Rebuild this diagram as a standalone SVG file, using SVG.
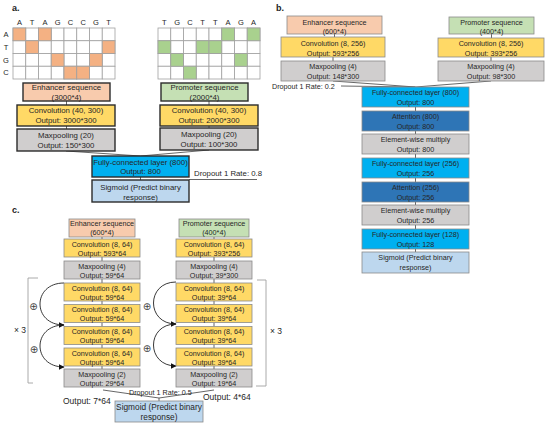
<svg xmlns="http://www.w3.org/2000/svg" width="550" height="427" viewBox="0 0 550 427">
<defs>
<style>
.t{font-family:"Liberation Sans",Arial,sans-serif;font-size:7.2px;fill:#262626;text-anchor:middle}
.tl{font-family:"Liberation Sans",Arial,sans-serif;font-size:7.2px;fill:#262626}
.ta{font-size:7.8px}
.big{font-size:8.3px}
.lab{font-family:"Liberation Sans",Arial,sans-serif;font-size:9px;font-weight:bold;fill:#222}
.ba{stroke:#2b2b2b;stroke-width:1.4}
.bb{stroke:#8a8a8a;stroke-width:0.8}
.or{fill:#F8CBAD}.gr{fill:#C5E0B4}.ye{fill:#FFD966}.gy{fill:#D0CECE}.fc{fill:#00B0F0}.at{fill:#2E75B6}.sg{fill:#BDD7EE}
.oc{fill:#F4B183}.gc{fill:#A9D18E}
.cell{fill:#fff;stroke:#a0a0a0;stroke-width:0.8}
.ln{stroke:#404040;stroke-width:0.8;fill:none}
.arc{stroke:#222;stroke-width:0.9;fill:none}
.br{stroke:#a0a0a0;stroke-width:0.9;fill:none}
.sym{font-family:"DejaVu Sans",sans-serif;font-size:10px;fill:#444;text-anchor:middle}
</style>
<marker id="ah" viewBox="0 0 10 10" refX="9" refY="5" markerWidth="6" markerHeight="6" orient="auto" markerUnits="userSpaceOnUse">
<path d="M0,0 L10,5 L0,10 z" fill="#111"/>
</marker>
</defs>
<rect width="550" height="427" fill="#fff"/>

<!-- Panel labels -->
<text class="lab" x="12" y="11">a.</text>
<text class="lab" x="276" y="11">b.</text>
<text class="lab" x="12" y="213">c.</text>

<!-- Panel a grids -->
<g id="grid-enhancer">
<g class="tl" style="text-anchor:middle;font-size:7.5px">
<text x="19.4" y="25">A</text><text x="32.1" y="25">T</text><text x="44.9" y="25">A</text><text x="57.6" y="25">G</text><text x="70.4" y="25">C</text><text x="83.1" y="25">C</text><text x="95.9" y="25">G</text><text x="108.6" y="25">T</text>
<text x="6" y="37">A</text><text x="6" y="49.5">T</text><text x="6" y="62.5">G</text><text x="6" y="75">C</text>
</g>
<g>
<rect class="cell" x="13" y="28" width="12.75" height="12.75"/><rect class="cell" x="25.75" y="28" width="12.75" height="12.75"/><rect class="cell" x="38.5" y="28" width="12.75" height="12.75"/><rect class="cell" x="51.25" y="28" width="12.75" height="12.75"/><rect class="cell" x="64" y="28" width="12.75" height="12.75"/><rect class="cell" x="76.75" y="28" width="12.75" height="12.75"/><rect class="cell" x="89.5" y="28" width="12.75" height="12.75"/><rect class="cell" x="102.25" y="28" width="12.75" height="12.75"/>
<rect class="cell" x="13" y="40.75" width="12.75" height="12.75"/><rect class="cell" x="25.75" y="40.75" width="12.75" height="12.75"/><rect class="cell" x="38.5" y="40.75" width="12.75" height="12.75"/><rect class="cell" x="51.25" y="40.75" width="12.75" height="12.75"/><rect class="cell" x="64" y="40.75" width="12.75" height="12.75"/><rect class="cell" x="76.75" y="40.75" width="12.75" height="12.75"/><rect class="cell" x="89.5" y="40.75" width="12.75" height="12.75"/><rect class="cell" x="102.25" y="40.75" width="12.75" height="12.75"/>
<rect class="cell" x="13" y="53.5" width="12.75" height="12.75"/><rect class="cell" x="25.75" y="53.5" width="12.75" height="12.75"/><rect class="cell" x="38.5" y="53.5" width="12.75" height="12.75"/><rect class="cell" x="51.25" y="53.5" width="12.75" height="12.75"/><rect class="cell" x="64" y="53.5" width="12.75" height="12.75"/><rect class="cell" x="76.75" y="53.5" width="12.75" height="12.75"/><rect class="cell" x="89.5" y="53.5" width="12.75" height="12.75"/><rect class="cell" x="102.25" y="53.5" width="12.75" height="12.75"/>
<rect class="cell" x="13" y="66.25" width="12.75" height="12.75"/><rect class="cell" x="25.75" y="66.25" width="12.75" height="12.75"/><rect class="cell" x="38.5" y="66.25" width="12.75" height="12.75"/><rect class="cell" x="51.25" y="66.25" width="12.75" height="12.75"/><rect class="cell" x="64" y="66.25" width="12.75" height="12.75"/><rect class="cell" x="76.75" y="66.25" width="12.75" height="12.75"/><rect class="cell" x="89.5" y="66.25" width="12.75" height="12.75"/><rect class="cell" x="102.25" y="66.25" width="12.75" height="12.75"/>
</g>
<g class="oc" stroke="#a0a0a0" stroke-width="0.8">
<rect x="13" y="28" width="12.75" height="12.75"/><rect x="38.5" y="28" width="12.75" height="12.75"/>
<rect x="25.75" y="40.75" width="12.75" height="12.75"/><rect x="102.25" y="40.75" width="12.75" height="12.75"/>
<rect x="51.25" y="53.5" width="12.75" height="12.75"/><rect x="89.5" y="53.5" width="12.75" height="12.75"/>
<rect x="64" y="66.25" width="12.75" height="12.75"/><rect x="76.75" y="66.25" width="12.75" height="12.75"/>
</g>
</g>

<g id="grid-promoter">
<g class="tl" style="text-anchor:middle;font-size:7.5px">
<text x="164.4" y="25">T</text><text x="177.1" y="25">G</text><text x="189.9" y="25">C</text><text x="202.6" y="25">T</text><text x="215.4" y="25">T</text><text x="228.1" y="25">A</text><text x="240.9" y="25">G</text><text x="253.6" y="25">A</text>
</g>
<g>
<rect class="cell" x="158" y="28" width="12.75" height="12.75"/><rect class="cell" x="170.75" y="28" width="12.75" height="12.75"/><rect class="cell" x="183.5" y="28" width="12.75" height="12.75"/><rect class="cell" x="196.25" y="28" width="12.75" height="12.75"/><rect class="cell" x="209" y="28" width="12.75" height="12.75"/><rect class="cell" x="221.75" y="28" width="12.75" height="12.75"/><rect class="cell" x="234.5" y="28" width="12.75" height="12.75"/><rect class="cell" x="247.25" y="28" width="12.75" height="12.75"/>
<rect class="cell" x="158" y="40.75" width="12.75" height="12.75"/><rect class="cell" x="170.75" y="40.75" width="12.75" height="12.75"/><rect class="cell" x="183.5" y="40.75" width="12.75" height="12.75"/><rect class="cell" x="196.25" y="40.75" width="12.75" height="12.75"/><rect class="cell" x="209" y="40.75" width="12.75" height="12.75"/><rect class="cell" x="221.75" y="40.75" width="12.75" height="12.75"/><rect class="cell" x="234.5" y="40.75" width="12.75" height="12.75"/><rect class="cell" x="247.25" y="40.75" width="12.75" height="12.75"/>
<rect class="cell" x="158" y="53.5" width="12.75" height="12.75"/><rect class="cell" x="170.75" y="53.5" width="12.75" height="12.75"/><rect class="cell" x="183.5" y="53.5" width="12.75" height="12.75"/><rect class="cell" x="196.25" y="53.5" width="12.75" height="12.75"/><rect class="cell" x="209" y="53.5" width="12.75" height="12.75"/><rect class="cell" x="221.75" y="53.5" width="12.75" height="12.75"/><rect class="cell" x="234.5" y="53.5" width="12.75" height="12.75"/><rect class="cell" x="247.25" y="53.5" width="12.75" height="12.75"/>
<rect class="cell" x="158" y="66.25" width="12.75" height="12.75"/><rect class="cell" x="170.75" y="66.25" width="12.75" height="12.75"/><rect class="cell" x="183.5" y="66.25" width="12.75" height="12.75"/><rect class="cell" x="196.25" y="66.25" width="12.75" height="12.75"/><rect class="cell" x="209" y="66.25" width="12.75" height="12.75"/><rect class="cell" x="221.75" y="66.25" width="12.75" height="12.75"/><rect class="cell" x="234.5" y="66.25" width="12.75" height="12.75"/><rect class="cell" x="247.25" y="66.25" width="12.75" height="12.75"/>
</g>
<g class="gc" stroke="#a0a0a0" stroke-width="0.8">
<rect x="221.75" y="28" width="12.75" height="12.75"/><rect x="247.25" y="28" width="12.75" height="12.75"/>
<rect x="158" y="40.75" width="12.75" height="12.75"/><rect x="196.25" y="40.75" width="12.75" height="12.75"/><rect x="209" y="40.75" width="12.75" height="12.75"/>
<rect x="170.75" y="53.5" width="12.75" height="12.75"/><rect x="234.5" y="53.5" width="12.75" height="12.75"/>
<rect x="183.5" y="66.25" width="12.75" height="12.75"/>
</g>
</g>

<!-- Connectors -->
<g id="connectors">
<!-- panel a -->
<line class="ln" x1="66.5" y1="101" x2="66.5" y2="105"/>
<line class="ln" x1="66.5" y1="126" x2="66.5" y2="129"/>
<line class="ln" x1="209" y1="101" x2="209" y2="105"/>
<line class="ln" x1="209" y1="126" x2="209" y2="128"/>
<line class="ln" x1="66" y1="151" x2="140.5" y2="156"/>
<line class="ln" x1="209" y1="150" x2="140.5" y2="156"/>
<line class="ln" x1="140.5" y1="177" x2="140.5" y2="180"/>
<line class="ln" x1="189" y1="179.5" x2="257" y2="179.5"/>
<!-- panel b -->
<line class="ln" x1="334.5" y1="34" x2="334.5" y2="37"/>
<line class="ln" x1="333" y1="57" x2="333" y2="61"/>
<line class="ln" x1="491.5" y1="34" x2="491.5" y2="38"/>
<line class="ln" x1="491" y1="57" x2="491" y2="61"/>
<line class="ln" x1="341" y1="86" x2="415.5" y2="87"/>
<line class="ln" x1="333" y1="81" x2="415.5" y2="87"/>
<line class="ln" x1="491" y1="81" x2="415.5" y2="87"/>
<line class="ln" x1="415.5" y1="107" x2="415.5" y2="111"/>
<line class="ln" x1="415.5" y1="131" x2="415.5" y2="134"/>
<line class="ln" x1="415.5" y1="154" x2="415.5" y2="158"/>
<line class="ln" x1="415.5" y1="178" x2="415.5" y2="182"/>
<line class="ln" x1="415.5" y1="202" x2="415.5" y2="205"/>
<line class="ln" x1="415.5" y1="225" x2="415.5" y2="229"/>
<line class="ln" x1="415.5" y1="249" x2="415.5" y2="252"/>
<!-- panel c -->
<line class="ln" x1="102" y1="237" x2="102" y2="239"/>
<line class="ln" x1="102" y1="257" x2="102" y2="261"/>
<line class="ln" x1="102" y1="279" x2="102" y2="283"/>
<line class="ln" x1="102" y1="301" x2="102" y2="304.5"/>
<line class="ln" x1="102" y1="322.5" x2="102" y2="326.5"/>
<line class="ln" x1="102" y1="344.5" x2="102" y2="348"/>
<line class="ln" x1="102" y1="366" x2="102" y2="369"/>
<line class="ln" x1="214" y1="237" x2="214" y2="239"/>
<line class="ln" x1="214" y1="257" x2="214" y2="261"/>
<line class="ln" x1="214" y1="279" x2="214" y2="283"/>
<line class="ln" x1="214" y1="301" x2="214" y2="304.5"/>
<line class="ln" x1="214" y1="322.5" x2="214" y2="326.5"/>
<line class="ln" x1="214" y1="344.5" x2="214" y2="348"/>
<line class="ln" x1="214" y1="366" x2="214" y2="369"/>
<path class="arc" d="M64,283 C32,283 32,325 64,325" marker-end="url(#ah)"/>
<path class="arc" d="M64,325 C32,325 32,367 64,367" marker-end="url(#ah)"/>
<path class="arc" d="M176,282 C146,282 146,324 176,324" marker-end="url(#ah)"/>
<path class="arc" d="M176,324 C146,324 146,366 176,366" marker-end="url(#ah)"/>
<line class="ln" x1="103" y1="390" x2="159" y2="398"/>
<line class="ln" x1="214" y1="390" x2="159" y2="398"/>
<line class="ln" x1="159" y1="398" x2="159" y2="401"/>
<polyline class="br" points="38,278 28,278 28,383 33,383"/>
<polyline class="br" points="257,280 266,280 266,386 256,386"/>
</g>

<!-- Panel a nodes -->
<g id="a-enhancer"><rect class="or ba" x="23" y="83" width="87" height="18"/><text class="t ta" x="66.5" y="89.8">Enhancer sequence</text><text class="t ta" x="66.5" y="99.5">(3000*4)</text></g>
<g id="a-conv-enh"><rect class="ye ba" x="17" y="105" width="98" height="21"/><text class="t ta" x="66" y="112.8">Convolution (40, 300)</text><text class="t ta" x="66" y="122.8">Output: 3000*300</text></g>
<g id="a-pool-enh"><rect class="gy ba" x="17" y="129" width="98" height="22"/><text class="t ta" x="66" y="137.8">Maxpooling (20)</text><text class="t ta" x="66" y="147.8">Output: 150*300</text></g>
<g id="a-promoter"><rect class="gr ba" x="161" y="83" width="87" height="18"/><text class="t ta" x="204.5" y="89.8">Promoter sequence</text><text class="t ta" x="204.5" y="99.5">(2000*4)</text></g>
<g id="a-conv-pro"><rect class="ye ba" x="160" y="105" width="98" height="21"/><text class="t ta" x="209" y="112.8">Convolution (40, 300)</text><text class="t ta" x="209" y="122.8">Output: 2000*300</text></g>
<g id="a-pool-pro"><rect class="gy ba" x="160" y="128" width="98" height="22"/><text class="t ta" x="209" y="136.8">Maxpooling (20)</text><text class="t ta" x="209" y="146.8">Output: 100*300</text></g>
<g id="a-fc"><rect class="fc ba" x="92" y="156" width="97" height="21"/><text class="t ta" x="140.5" y="164.8">Fully-connected layer (800)</text><text class="t ta" x="140.5" y="174.3">Output: 800</text></g>
<g id="a-sig"><rect class="sg ba" x="92" y="180" width="97" height="22"/><text class="t ta" x="140.5" y="189.8">Sigmoid (Predict binary</text><text class="t ta" x="140.5" y="199.8">response)</text></g>
<text class="tl ta" x="194" y="176">Dropout 1 Rate: 0.8</text>

<!-- Panel b nodes -->
<g id="b-enhancer"><rect class="or bb" x="287" y="16" width="95" height="18"/><text class="t" x="334.5" y="24.5">Enhancer sequence</text><text class="t" x="334.5" y="33.5">(600*4)</text></g>
<g id="b-conv-enh"><rect class="ye bb" x="281" y="37" width="104" height="20"/><text class="t" x="333" y="45.5">Convolution (8, 256)</text><text class="t" x="333" y="55.5">Output: 593*256</text></g>
<g id="b-pool-enh"><rect class="gy bb" x="281" y="61" width="104" height="20"/><text class="t" x="333" y="68.5">Maxpooling (4)</text><text class="t" x="333" y="78.5">Output: 148*300</text></g>
<g id="b-promoter"><rect class="gr bb" x="449" y="17" width="85" height="17"/><text class="t" x="491.5" y="24.5">Promoter sequence</text><text class="t" x="491.5" y="33.5">(400*4)</text></g>
<g id="b-conv-pro"><rect class="ye bb" x="438" y="38" width="106" height="19"/><text class="t" x="491" y="45.5">Convolution (8, 256)</text><text class="t" x="491" y="55.5">Output: 393*256</text></g>
<g id="b-pool-pro"><rect class="gy bb" x="438" y="61" width="106" height="20"/><text class="t" x="491" y="68.5">Maxpooling (4)</text><text class="t" x="491" y="78.5">Output: 98*300</text></g>
<text class="tl" x="272" y="88.5">Dropout 1 Rate: 0.2</text>
<g id="b-fc800"><rect class="fc bb" x="362" y="87" width="107" height="20"/><text class="t" x="415.5" y="94.5">Fully-connected layer (800)</text><text class="t" x="415.5" y="104.5">Output: 800</text></g>
<g id="b-att800"><rect class="at bb" x="362" y="111" width="107" height="20"/><text class="t" x="415.5" y="118.5">Attention (800)</text><text class="t" x="415.5" y="128.5">Output: 800</text></g>
<g id="b-ew800"><rect class="gy bb" x="362" y="134" width="107" height="20"/><text class="t" x="415.5" y="141.5">Element-wise multiply</text><text class="t" x="415.5" y="151.5">Output: 800</text></g>
<g id="b-fc256"><rect class="fc bb" x="362" y="158" width="107" height="20"/><text class="t" x="415.5" y="165.5">Fully-connected layer (256)</text><text class="t" x="415.5" y="175.5">Output: 256</text></g>
<g id="b-att256"><rect class="at bb" x="362" y="182" width="107" height="20"/><text class="t" x="415.5" y="189.5">Attention (256)</text><text class="t" x="415.5" y="199.5">Output: 256</text></g>
<g id="b-ew256"><rect class="gy bb" x="362" y="205" width="107" height="20"/><text class="t" x="415.5" y="212.5">Element-wise multiply</text><text class="t" x="415.5" y="222.5">Output: 256</text></g>
<g id="b-fc128"><rect class="fc bb" x="362" y="229" width="107" height="20"/><text class="t" x="415.5" y="236.5">Fully-connected layer (128)</text><text class="t" x="415.5" y="246.5">Output: 128</text></g>
<g id="b-sig"><rect class="sg bb" x="362" y="252" width="107" height="21"/><text class="t" x="415.5" y="260">Sigmoid (Predict binary</text><text class="t" x="415.5" y="270">response)</text></g>

<!-- Panel c nodes -->
<g id="c-enhancer"><rect class="or bb" x="69" y="219" width="66" height="18"/><text class="t" x="102" y="225.5">Enhancer sequence</text><text class="t" x="102" y="234.5">(600*4)</text></g>
<g id="c-conv-enh"><rect class="ye bb" x="64" y="239" width="76" height="18"/><text class="t" x="102" y="246.5">Convolution (8, 64)</text><text class="t" x="102" y="255.5">Output: 593*64</text></g>
<g id="c-pool4-enh"><rect class="gy bb" x="64" y="261" width="76" height="18"/><text class="t" x="102" y="268.5">Maxpooling (4)</text><text class="t" x="102" y="277.5">Output: 59*64</text></g>
<g id="c-conv1-enh"><rect class="ye bb" x="64" y="283" width="76" height="18"/><text class="t" x="102" y="290.5">Convolution (8, 64)</text><text class="t" x="102" y="299.5">Output: 59*64</text></g>
<g id="c-conv2-enh"><rect class="ye bb" x="64" y="304.5" width="76" height="18"/><text class="t" x="102" y="312">Convolution (8, 64)</text><text class="t" x="102" y="321">Output: 59*64</text></g>
<g id="c-conv3-enh"><rect class="ye bb" x="64" y="326.5" width="76" height="18"/><text class="t" x="102" y="334">Convolution (8, 64)</text><text class="t" x="102" y="343">Output: 59*64</text></g>
<g id="c-conv4-enh"><rect class="ye bb" x="64" y="348" width="76" height="18"/><text class="t" x="102" y="355.5">Convolution (8, 64)</text><text class="t" x="102" y="364.5">Output: 59*64</text></g>
<g id="c-pool2-enh"><rect class="gy bb" x="64" y="369" width="76" height="18"/><text class="t" x="102" y="376.5">Maxpooling (2)</text><text class="t" x="102" y="385.5">Output: 29*64</text></g>

<g id="c-promoter"><rect class="gr bb" x="179" y="219" width="70" height="18"/><text class="t" x="214" y="225.5">Promoter sequence</text><text class="t" x="214" y="234.5">(400*4)</text></g>
<g id="c-conv-pro"><rect class="ye bb" x="176" y="239" width="76" height="18"/><text class="t" x="214" y="246.5">Convolution (8, 64)</text><text class="t" x="214" y="255.5">Output: 393*256</text></g>
<g id="c-pool4-pro"><rect class="gy bb" x="176" y="261" width="76" height="18"/><text class="t" x="214" y="268.5">Maxpooling (4)</text><text class="t" x="214" y="277.5">Output: 39*300</text></g>
<g id="c-conv1-pro"><rect class="ye bb" x="176" y="283" width="76" height="18"/><text class="t" x="214" y="290.5">Convolution (8, 64)</text><text class="t" x="214" y="299.5">Output: 39*64</text></g>
<g id="c-conv2-pro"><rect class="ye bb" x="176" y="304.5" width="76" height="18"/><text class="t" x="214" y="312">Convolution (8, 64)</text><text class="t" x="214" y="321">Output: 39*64</text></g>
<g id="c-conv3-pro"><rect class="ye bb" x="176" y="326.5" width="76" height="18"/><text class="t" x="214" y="334">Convolution (8, 64)</text><text class="t" x="214" y="343">Output: 39*64</text></g>
<g id="c-conv4-pro"><rect class="ye bb" x="176" y="348" width="76" height="18"/><text class="t" x="214" y="355.5">Convolution (8, 64)</text><text class="t" x="214" y="364.5">Output: 39*64</text></g>
<g id="c-pool2-pro"><rect class="gy bb" x="176" y="369" width="76" height="18"/><text class="t" x="214" y="376.5">Maxpooling (2)</text><text class="t" x="214" y="385.5">Output: 19*64</text></g>

<g id="c-sig"><rect class="sg bb" x="115" y="401" width="88" height="21"/><text class="t big" x="159" y="410">Sigmoid (Predict binary</text><text class="t big" x="159" y="420">response)</text></g>

<text class="tl" x="129" y="394.5">Dropout 1 Rate: 0.5</text>
<text class="tl" x="63" y="404" style="font-size:8.5px">Output: 7*64</text>
<text class="tl" x="203" y="400" style="font-size:8.5px">Output: 4*64</text>
<text class="tl" x="14" y="333" style="font-size:8.5px">× 3</text>
<text class="tl" x="270" y="334" style="font-size:8.5px">× 3</text>
<text class="sym" x="33.5" y="310">⊕</text>
<text class="sym" x="34" y="353">⊕</text>
<text class="sym" x="147" y="310">⊕</text>
<text class="sym" x="147" y="352">⊕</text>
</svg>
